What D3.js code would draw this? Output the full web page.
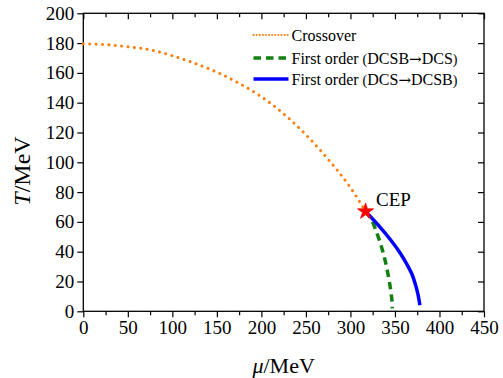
<!DOCTYPE html>
<html>
<head>
<meta charset="utf-8">
<script src="https://cdn.jsdelivr.net/npm/d3@7"></script>
<style>
  body { margin: 0; background: #fff; }
  svg text { font-family: "Liberation Serif", "Times New Roman", serif; fill: #000; }
  .tick-label { font-size: 19px; }
  .legend-text { font-size: 16px; }
</style>
</head>
<body>
<div id="chart"></div>
<script>
// crossover line (orange dotted)
const crossMu = [0, 25, 50, 75, 100, 125, 150, 175, 200, 225, 250, 275, 300, 317];
const crossT = [179.5, 179, 177.5, 175.5, 171.5, 166.5, 160.5, 153, 144, 132.5, 118.5, 102, 83, 67];

// first order DCSB -> DCS (green dashed)
const foAMu = [317, 324, 330, 335, 339, 342.5, 345, 346.5, 347];
const foAT = [67, 61, 52, 43, 34, 24, 15, 8, 2];

// first order DCS -> DCSB (blue solid)
const foBMu = [317, 331, 345, 356, 363, 369, 373, 376, 378];
const foBT = [67, 58, 48, 39, 32, 25, 18, 11, 4];

const cep = { mu: 317, t: 67 };

const xTicks = [0, 50, 100, 150, 200, 250, 300, 350, 400, 450];
const xMinor = [25, 75, 125, 175, 225, 275, 325, 375, 425];
const yTicks = [0, 20, 40, 60, 80, 100, 120, 140, 160, 180, 200];

const legendLabels = [
  ['Crossover'],
  ['First order ', '(', 'DCSB', '\u2192', 'DCS', ')'],
  ['First order ', '(', 'DCS', '\u2192', 'DCSB', ')'],
];

const width = 503, height = 378;
const plot = { left: 83.3, right: 484, top: 13.3, bottom: 311.3 };

const svg = d3.select('#chart')
  .append('svg')
  .attr('width', width)
  .attr('height', height);

const x = d3.scaleLinear().domain([0, 450]).range([plot.left, plot.right]);
const y = d3.scaleLinear().domain([0, 200]).range([plot.bottom, plot.top]);

const lineY = d3.line().x(d => x(d[0])).y(d => y(d[1])).curve(d3.curveCatmullRom);
const lineX = d3.line().x(d => x(d[0])).y(d => y(d[1])).curve(d3.curveMonotoneX);

// frame
svg.append('rect')
  .attr('x', plot.left).attr('y', plot.top)
  .attr('width', plot.right - plot.left)
  .attr('height', plot.bottom - plot.top)
  .attr('fill', 'none').attr('stroke', '#000').attr('stroke-width', 1.3);

// bottom axis (outward ticks)
svg.append('g').attr('transform', `translate(0,${plot.bottom})`)
  .call(d3.axisBottom(x).tickValues(xMinor).tickSize(4).tickFormat(''));
const bottomMajor = svg.append('g').attr('transform', `translate(0,${plot.bottom})`)
  .call(d3.axisBottom(x).tickValues(xTicks).tickSize(6).tickPadding(3));
bottomMajor.selectAll('text').attr('class', 'tick-label');

// top axis (inward ticks)
const topAxis = svg.append('g').attr('transform', `translate(0,${plot.top})`);
topAxis.append('g').call(d3.axisBottom(x).tickValues(xTicks).tickSize(6).tickFormat(''));
topAxis.append('g').call(d3.axisBottom(x).tickValues(xMinor).tickSize(4).tickFormat(''));

// left axis (outward ticks)
const leftAxis = svg.append('g').attr('transform', `translate(${plot.left},0)`)
  .call(d3.axisLeft(y).tickValues(yTicks).tickSize(6).tickPadding(3));
leftAxis.selectAll('text').attr('class', 'tick-label');

// right axis (inward ticks)
svg.append('g').attr('transform', `translate(${plot.right},0)`)
  .call(d3.axisLeft(y).tickValues(yTicks).tickSize(6).tickFormat(''));

svg.selectAll('.domain').remove();
svg.selectAll('.tick line').attr('stroke-width', 1.2);
svg.selectAll('g').attr('font-size', null).attr('font-family', null);
svg.selectAll('.tick-label').style('font-family', '"Liberation Serif", serif');

// axis titles
const xTitle = svg.append('text')
  .attr('x', (plot.left + plot.right) / 2).attr('y', 373)
  .attr('text-anchor', 'middle')
  .attr('font-size', 22);
xTitle.append('tspan').attr('font-style', 'italic').text('\u03bc');
xTitle.append('tspan').text('/MeV');

const yTitle = svg.append('text')
  .attr('transform', 'translate(30,171) rotate(-90)')
  .attr('text-anchor', 'middle')
  .attr('font-size', 24);
yTitle.append('tspan').attr('font-style', 'italic').text('T');
yTitle.append('tspan').text('/MeV');

// series
const styles = [
  { color: '#ff7f0e', width: 3, dash: '0.1 6.3', cap: 'round' },
  { color: '#118011', width: 3.5, dash: '7.5 5', cap: 'butt' },
  { color: '#0000ff', width: 3.5, dash: null, cap: 'butt' },
];

svg.append('path')
  .datum(d3.zip(crossMu, crossT))
  .attr('d', lineX)
  .attr('fill', 'none')
  .attr('stroke', styles[0].color)
  .attr('stroke-width', styles[0].width)
  .attr('stroke-dasharray', styles[0].dash)
  .attr('stroke-linecap', styles[0].cap);

svg.append('path')
  .datum(d3.zip(foAMu, foAT))
  .attr('d', lineY)
  .attr('fill', 'none')
  .attr('stroke', styles[1].color)
  .attr('stroke-width', styles[1].width)
  .attr('stroke-dasharray', styles[1].dash);

svg.append('path')
  .datum(d3.zip(foBMu, foBT))
  .attr('d', lineY)
  .attr('fill', 'none')
  .attr('stroke', styles[2].color)
  .attr('stroke-width', styles[2].width);

// CEP star
svg.append('path')
  .attr('d', d3.symbol(d3.symbolStar, 80)())
  .attr('transform', `translate(${x(cep.mu)},${y(cep.t)})`)
  .attr('fill', '#ff0000')
  .attr('stroke', '#ff0000')
  .attr('stroke-width', 0.8);

svg.append('text')
  .attr('x', x(cep.mu) + 10.5).attr('y', y(cep.t) - 5)
  .attr('font-size', 19)
  .text('CEP');

// legend
const legend = svg.append('g');
const legendY = [35, 58, 79];
legendLabels.forEach((parts, i) => {
  const s = styles[i];
  legend.append('line')
    .attr('x1', 253.5).attr('x2', 288.5)
    .attr('y1', legendY[i]).attr('y2', legendY[i])
    .attr('stroke', s.color)
    .attr('stroke-width', i === 0 ? 2 : s.width)
    .attr('stroke-dasharray', i === 0 ? '0.1 3' : s.dash)
    .attr('stroke-linecap', s.cap);
  const t = legend.append('text')
    .attr('class', 'legend-text')
    .attr('x', 291.5).attr('y', legendY[i] + 5.5);
  parts.forEach(p => {
    const span = t.append('tspan').text(p);
    if (p === '(' || p === ')') span.attr('font-size', 14);
    if (p === '\u2192') span.style('font-family', '"DejaVu Serif", serif').attr('font-size', 15);
  });
});
</script>
</body>
</html>
